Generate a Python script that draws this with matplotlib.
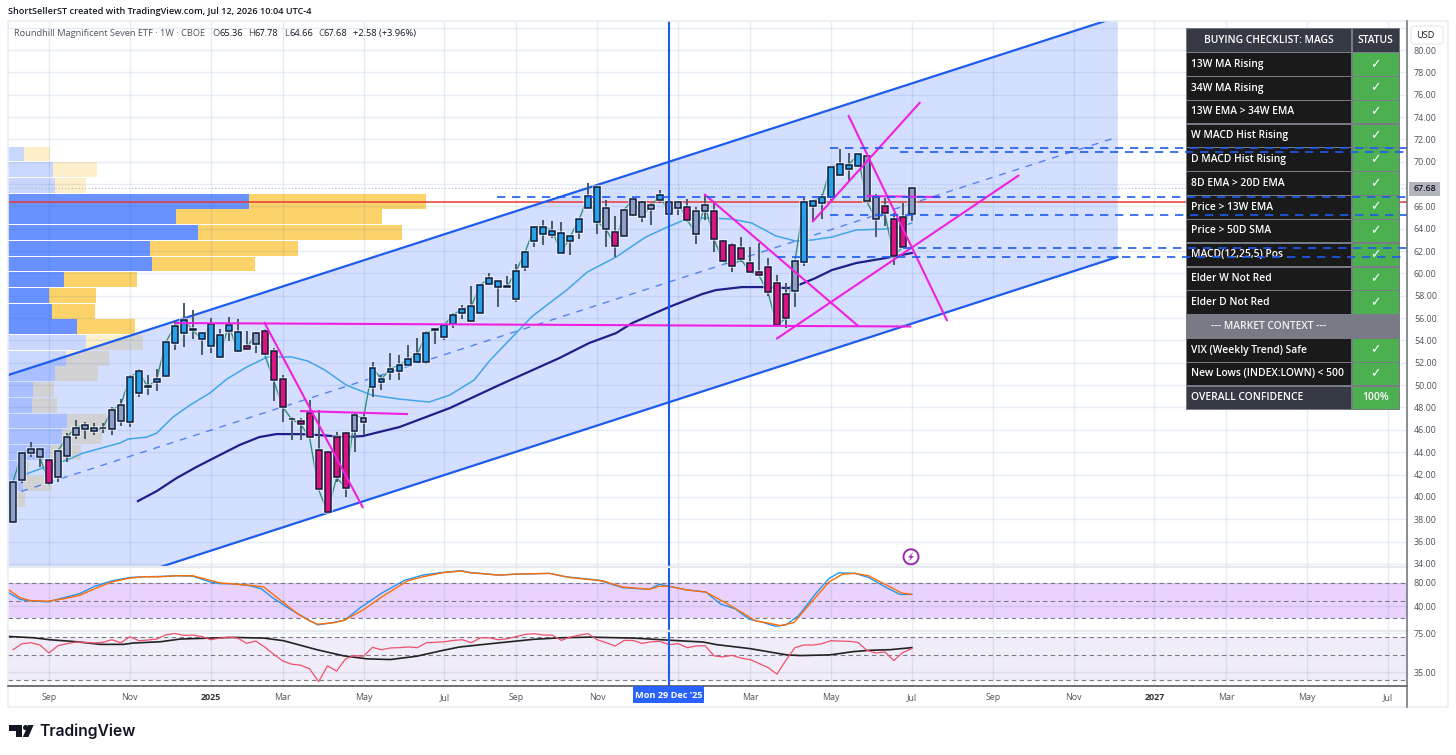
import matplotlib
matplotlib.use("Agg")
import matplotlib.pyplot as plt
import matplotlib.patheffects as pe
from matplotlib.patches import Rectangle, FancyBboxPatch, Polygon, Circle
from matplotlib.lines import Line2D
from matplotlib.transforms import Affine2D

plt.rcParams['font.family'] = ['Open Sans', 'DejaVu Sans']

# ---------- DATA ----------
opens = [37.77,41.5,43.95,44.25,43.26,41.74,43.7,45.56,46.04,46.2,46.15,46.07,46.81,46.66,49.26,49.92,50.3,50.78,53.74,54.63,
         55.05,54.63,53.53,54.52,54.87,54.72,53.5,53.68,54.81,53.02,50.58,46.96,46.81,47.47,44.22,44.04,45.32,45.68,45.92,46.72,
         49.8,50.3,51.17,51.23,51.82,52.03,52.09,55.05,54.33,55.47,56.42,55.77,56.42,59.02,59.35,58.78,57.74,60.54,62.87,63.5,
         63.41,63.59,62.87,63.68,65.83,67.77,65.83,63.68,63.32,65.2,66.39,65.74,66.57,66.39,65.83,65.92,65.56,65.62,65.62,62.93,
         62.54,62.3,60.9,60.12,60.54,59.1,58.18,58.39,61.0,66.03,66.33,66.87,68.78,69.32,69.61,70.51,66.81,66.03,64.84,65.02,65.36]
closes = [41.35,43.89,44.3,43.53,41.2,44.13,45.35,46.2,46.4,45.86,46.2,47.77,48.25,50.69,51.23,49.8,50.55,53.83,55.29,55.83,
          54.93,54.1,55.44,52.55,55.41,53.02,53.26,54.63,52.75,50.43,48.07,46.94,46.52,45.32,40.66,38.63,41.74,40.81,47.29,47.08,
          51.56,50.55,51.47,51.8,52.3,52.75,54.69,54.97,55.41,56.3,56.84,57.08,58.99,59.56,58.81,58.84,60.25,61.95,64.13,64.19,
          63.83,61.86,63.32,64.84,66.96,64.63,63.95,62.48,65.71,66.63,65.08,66.1,66.99,65.32,66.36,64.81,63.56,66.1,63.05,61.08,
          60.69,61.26,60.15,59.82,58.33,55.35,56.03,61.08,66.36,66.51,66.81,69.55,69.79,69.73,70.66,66.45,64.84,65.37,61.55,62.39,67.68]
highs = [41.4,44.0,44.93,44.25,43.3,44.2,45.68,46.87,46.72,46.57,46.6,48.07,48.78,50.9,51.41,50.93,51.41,53.87,55.77,57.32,
         56.72,54.78,55.98,55.0,56.07,55.89,54.87,54.75,55.0,53.29,50.9,47.17,47.02,48.66,47.77,44.1,45.83,45.83,47.62,47.62,
         52.04,50.9,52.84,52.7,53.58,54.18,54.87,55.1,55.47,56.42,57.17,58.87,59.0,60.0,59.41,59.77,60.81,62.0,64.15,64.78,
         64.69,64.63,63.35,64.85,68.07,67.92,66.57,65.14,65.75,66.72,66.45,66.27,67.47,66.51,66.51,66.63,65.92,67.11,66.42,62.99,
         62.69,63.29,62.39,62.69,61.35,59.85,59.17,61.1,66.72,66.51,67.11,69.6,71.11,70.75,70.69,70.5,67.11,66.72,65.43,66.33,67.78]
lows = [37.62,41.26,43.53,42.7,41.1,41.35,43.14,45.14,45.2,45.53,45.74,45.56,46.34,46.28,48.96,49.11,49.5,50.7,53.14,53.38,
        54.1,52.7,52.84,52.4,53.98,52.96,53.14,52.9,52.75,48.6,46.72,45.08,45.08,45.32,40.66,38.5,41.35,39.95,44.04,45.53,
        48.96,49.56,50.46,50.46,51.8,51.94,51.88,53.64,54.04,55.08,55.95,55.68,56.36,58.96,57.02,58.75,57.41,60.25,62.39,62.57,
        63.17,61.8,61.68,63.08,65.83,63.53,62.39,61.5,63.3,65.14,64.57,64.33,66.27,65.26,65.23,64.63,62.63,64.78,61.95,61.08,
        60.12,61.05,60.06,59.82,57.97,55.35,55.1,57.02,60.66,64.72,64.9,66.42,68.72,68.3,69.55,66.45,63.28,64.24,60.75,62.39,64.66]
impulse = ("GGGGMGGGGGGGG" + "BBBBBBBBBBBBB" + "MG" + "MMMMMMMMMM" + "GG" + "BBBBBBBBBBBBBBBBBBBBBBBBBB" +
           "GM" + "GGGG" + "B" + "GG" + "M" + "GG" + "MMMMMMMMM" + "G" + "BBBBBBB" + "GG" + "MMM" + "G")

ma13_x = [1.1,3.3,6,7.8,11.9,12.8,14.9,16,17.8,19.7,21.9,23.8,26,28.3,31,32.8,34.7,37.1,39.9,43,46.3,48.6,51.3,53.1,57.8,61.6,
          63.9,67.1,70.4,72.8,75.2,77.4,80,82.2,84.9,87.1,88.9,91.1,93.8,96.9,98.6,100]
ma13_y = [41.95,42.58,43.3,43.92,44.82,45.17,45.35,45.71,47.14,48.22,49.29,50.55,51.62,52.52,52.52,52.16,51.35,50.0,49.11,48.75,
          48.49,49.11,50.46,52.25,56.19,58.51,60.13,61.47,63.26,64.15,64.96,64.96,64.87,64.51,63.35,62.9,62.99,63.26,63.89,63.97,64.15,64.51]
ma34_x = [13.9,16,18.2,20.4,23,25.2,27.4,29.3,31.9,34.1,37.1,38.9,43,48.6,54.1,60.8,64.1,67.1,68.9,73,76.7,78.2,81.1,83.3,86.3,
          87.4,89.3,91.1,93.8,97.1,100]
ma34_y = [39.62,40.52,41.68,42.67,43.74,44.64,45.35,45.62,45.62,45.53,45.35,45.44,46.25,47.95,50.01,52.43,53.77,54.66,55.56,57.0,
          58.16,58.51,58.78,58.78,58.69,58.96,59.59,60.3,60.93,61.38,61.83]

vp_price = [70.69,69.28,67.88,66.47,65.07,63.66,62.25,60.85,59.44,58.04,56.63,55.23,53.82,52.41,51.01,49.6,48.2,46.79,45.38,43.98,42.57,41.17,39.76]
vp_up = [16,45,47,241,168,190,142,144,56,41,44,69,78,58,47,25,24,59,54,42,12,15,2]
vp_total = [42,89,78,418,374,394,290,247,129,88,87,127,135,101,90,46,49,99,94,73,21,44,17]
vp_strong = [0,0,0,1,1,1,1,1,1,1,1,1,0,0,0,0,0,0,0,0,0,0,0]

channel_x = [-0.556, 122.87]
channel_top = [50.9, 82.95]
channel_bot = [29.3, 61.47]
channel_mid = [40.1, 72.21]

pink_x = [[18.03,99.95],[27.94,38.95],[31.94,43.96],[76.9,94.05],[84.92,111.96],[88.93,100.95],[92.93,103.95],[94.94,103.17]]
pink_y = [[55.56,55.25],[55.65,39.0],[47.68,47.41],[67.11,55.29],[54.13,68.81],[64.6,75.34],[74.18,55.74],[66.93,66.84]]

level_prices = [66.84,65.23,71.23,70.87,62.27,61.47]
level_starts = [53.87,90.9,90.9,98.7,99.05,85.0]
red_level = 66.44
last_price = 67.68

stoch_k_x = [-0.5,0.8,1.9,3.9,5.6,7.4,9.1,11,13,14.5,16.3,18.2,20,21.9,23,24.5,26.3,27.6,28.9,30.8,32.6,33.9,35.6,36.9,38.6,41.1,43.6,45.6,47.8,49.9,50.8,
             54.1,56,59.7,61.5,65.2,67.8,70.8,71.9,73,74.8,77.1,78.7,80.4,81.9,83.4,84.8,86,87.4,89.3,90.8,91.9,93.7,95.2,97.4,98.7,100]
stoch_k_y = [62.9,51.5,49.2,47.5,54.3,61.2,73.8,82.9,88.6,89.8,90.3,91.5,90.9,81.2,78.3,77.8,74.9,69.7,54.3,35.4,19.4,8.6,12.6,16.6,37.2,62.9,84,92.6,97.2,100,97.2,
             92.6,94.3,95.5,89.8,84,71.5,68.6,77.2,73.8,68,64,44,35.4,18.3,13.1,6.3,8.6,24,61.2,86.9,96.6,95.5,88.6,69.7,60,60]
stoch_d_x = [-0.5,0.8,1.9,3.9,5.6,7.4,9.1,11,13,14.5,16.3,18.2,20,21.9,23,24.5,26.3,27.9,29.7,31.6,33,33.9,35.6,36.9,39,41.1,43.9,45.6,47.8,49.9,50.8,
             54.1,56,59.7,61.9,65.6,67.8,70.8,71.9,73,74.8,77.1,79.3,81.1,82.6,83.7,85.4,86.9,88.5,90.8,92.3,93.7,95.2,97,98.9,100]
stoch_d_y = [68,54.3,49.7,48.6,52.6,58.3,69.7,81.2,87.5,89.8,89.8,91.5,91.5,84,79.5,77.8,75.5,72.6,50.9,28,15.4,9.7,12,16.6,34.3,56.6,82.9,89.8,96.6,99.5,96.6,
             92.6,94.3,95.5,88.6,82.9,72.6,68.6,73.8,73.8,68,64,45.7,29.7,15.4,12.6,7.4,12.6,41.2,81.2,94.3,95.5,91.5,77.2,62.3,60]

rsi = [58.2,64.4,65.4,63,54.8,62.3,64.4,66.1,65.8,65.1,65.8,68.5,65.4,71.6,67.5,68.2,69.2,73.6,75,73,73.3,71.9,68.5,70.2,71.2,70.2,
       64.7,67.1,61,53.5,46.6,43.2,42.2,38.4,25.1,41.5,36,48.7,52.1,51.4,60.6,58.2,60,60.3,61,60.3,65.4,65.8,66.4,67.8,68.5,65.4,70.5,70.5,
       68.5,69.5,71.9,74,74.7,73.3,73.3,67.8,71.2,73.3,74.7,68.5,65.4,62,67.8,67.8,64.7,66.4,66.8,63.4,64.4,60.3,62,62.3,51.8,50.7,52.4,49.4,48,43.9,
       39.8,32.9,47.3,60.3,63,63,64.4,67.5,67.1,66.8,65.8,57.6,54.8,55.9,47,55.2,59.3]
rsi_ma_x = [-0.5,2.3,4.1,7.1,9.7,12.3,13.4,16.4,18.6,21.9,24.5,27.9,30.1,33.8,36.8,39.4,42,44.9,47.9,49.7,54.2,57.9,60.9,64.2,69,72.7,76.8,78.3,82,86.1,87.6,90.9,93.5,95.4,97.6,100]
rsi_ma_y = [71.9,70.5,68.5,66.4,63.7,63.7,65.1,66.4,69.2,70.2,70.9,70.2,67.5,58.2,51.8,48.7,48,51.4,57.6,61,65.4,68.9,70.5,71.2,70.2,68.2,66.1,63.4,59.3,52.8,52.1,52.8,56.2,57.6,58.2,60.3]

stoch_levels = [80, 48.5, 20]
rsi_levels = [71.2, 53.2, 26.5]

date_ticks = [4,13,22,30,39,48,56,65,74,82,91,100,109,118,127,135,144,153]
date_labels = ['Sep','Nov','2025','Mar','May','Jul','Sep','Nov','','Mar','May','Jul','Sep','Nov','2027','Mar','May','Jul']
cursor_week = 73
cursor_label = "Mon 29 Dec '25"

table_rows = ['13W MA Rising','34W MA Rising','13W EMA > 34W EMA','W MACD Hist Rising','D MACD Hist Rising','8D EMA > 20D EMA',
              'Price > 13W EMA','Price > 50D SMA','MACD(12,25,5) Pos','Elder W Not Red','Elder D Not Red',
              '--- MARKET CONTEXT ---','VIX (Weekly Trend) Safe','New Lows (INDEX:LOWN) < 500','OVERALL CONFIDENCE']
table_status = ['✓']*11 + [''] + ['✓','✓','100%']

# ---------- LAYOUT ----------
W, H = 1456, 755
fig = plt.figure(figsize=(W/100, H/100), dpi=100, facecolor='white')
px = Affine2D().scale(1, -1).translate(0, H)

def axes_px(x0, y0, x1, y1, **kw):
    return fig.add_axes([x0/W, (H-y1)/H, (x1-x0)/W, (y1-y0)/H], **kw)

XMIN, XMAX = -0.556, 155.1
BLUE = '#2962FF'
LINEBLUE = '#1D5CEE'

ax_vp = axes_px(8, 21, 1407, 567, zorder=0)
ax = axes_px(8, 21, 1407, 567, zorder=1)
ax2 = axes_px(8, 568, 1407, 630, zorder=1)
ax3 = axes_px(8, 632, 1407, 686, zorder=1)
ax.patch.set_visible(False)

for a in (ax_vp, ax, ax2, ax3):
    a.set_xlim(XMIN, XMAX)
    for s in a.spines.values():
        s.set_visible(False)

ax.set_ylim(33.72, 82.6)
ax_vp.set_ylim(33.72, 82.6)
ax_vp.set_xlim(0, 1399)
ax_vp.set_xticks([]); ax_vp.set_yticks([])
ax2.set_ylim(0, 104.6)
ax3.set_ylim(20.6, 76.5)

# grid
yt = list(range(34, 84, 2))
ax.set_yticks(yt)
ax.set_yticklabels(['' if v in (68, 82) else f'{v:.2f}' for v in yt])
ax.yaxis.tick_right()
ax2.yaxis.tick_right(); ax3.yaxis.tick_right()
ax2.set_yticks([80, 40]); ax2.set_yticklabels(['80.00', '40.00'])
ax3.set_yticks([75, 35]); ax3.set_yticklabels(['75.00', '35.00'])
for a in (ax, ax2, ax3):
    a.set_xticks(date_ticks)
    a.tick_params(axis='both', length=0)
    a.tick_params(axis='y', labelsize=6.4, labelcolor='#50535e', pad=5)
    a.grid(True, color='#29619B', alpha=0.11, lw=1.0, zorder=0.5)
    a.set_axisbelow(True)
ax.set_xticklabels([]); ax2.set_xticklabels([])
ax3.set_xticklabels(date_labels, fontsize=6.4, color='#50535e')
ax3.tick_params(axis='x', pad=5)
for lab, txt in zip(ax3.get_xticklabels(), date_labels):
    if txt.isdigit():
        lab.set_fontweight('bold'); lab.set_color('#333333')

# volume profile
for p, u, t, s in zip(vp_price, vp_up, vp_total, vp_strong):
    al = 0.7 if s else 0.25
    ax_vp.barh(p, u, height=1.33, left=0, color=BLUE, alpha=al, lw=0, zorder=2)
    ax_vp.barh(p, t-u, height=1.33, left=u, color='#FBC02D', alpha=al, lw=0, zorder=2)

# channel
ax.fill_between(channel_x, channel_bot, channel_top, color=BLUE, alpha=0.2, lw=0, zorder=1)
ax.plot(channel_x, channel_top, color=LINEBLUE, lw=1.6, zorder=4)
ax.plot(channel_x, channel_bot, color=LINEBLUE, lw=1.6, zorder=4)
ax.plot(channel_x, channel_mid, color=LINEBLUE, lw=1.0, ls=(0, (5, 5)), alpha=0.7, zorder=4)

# horizontal levels under the table
ax.axhline(red_level, color='#E53935', lw=1.1, zorder=3)
ax.axhline(last_price, color='#b2b5be', lw=0.8, ls=(0, (1, 2)), zorder=3)

# moving averages and fast line
idx = list(range(len(closes)))
ax.plot(ma13_x, ma13_y, color='#42A5E8', lw=1.1, zorder=5)
ax.plot(ma34_x, ma34_y, color='#1F1F8A', lw=1.6, zorder=5)
ax.plot(idx, closes, color='#2F8F78', lw=1.0, zorder=6)

# candles
fill = {'G': '#8F9FC6', 'B': '#2AA0E6', 'M': '#DC1480'}
tops = [max(o, c) for o, c in zip(opens, closes)]
bots = [min(o, c) for o, c in zip(opens, closes)]
hts = [max(t-b, 0.05) for t, b in zip(tops, bots)]
ax.vlines(idx, lows, highs, color='#4A5A66', lw=1.4, zorder=7)
bars = ax.bar(idx, hts, bottom=bots, width=0.66, color=[fill[k] for k in impulse],
              edgecolor='#0E1C3C', lw=1.1, zorder=8)
halo = [pe.withStroke(linewidth=2.6, foreground=(1, 1, 1, 0.6))]
for b in bars:
    b.set_path_effects(halo)

# pink trend lines
for xs, ys in zip(pink_x, pink_y):
    ax.plot(xs, ys, color='#F020E0', lw=1.5, zorder=10, solid_capstyle='butt')

# table
tbl_x0, tbl_x1, tbl_mid = 1186, 1400, 1352
ax.add_patch(Rectangle((tbl_x0, 28), tbl_x1-tbl_x0, 382, transform=px, fc='#787B86', ec='none', zorder=20, clip_on=False))
def cell(x0, x1, y0, y1, c):
    ax.add_patch(Rectangle((x0, y0), x1-x0, y1-y0, transform=px, fc=c, ec='none', zorder=21, clip_on=False))
def ttext(x, y, s, ha='left', size=7.4, weight='semibold', c='white', fam=None):
    ax.text(x, y, s, transform=px, ha=ha, va='center', fontsize=size, color=c, fontweight=weight, zorder=22, clip_on=False, family=fam)
cell(1187, 1351, 29, 51.5, '#363A45'); cell(1353, 1399, 29, 51.5, '#363A45')
ttext(1269, 40.5, 'BUYING CHECKLIST: MAGS', ha='center')
ttext(1375.5, 40.5, 'STATUS', ha='center')
row_h = 23.82
for k, (lab, st) in enumerate(zip(table_rows, table_status)):
    y0 = 53.2 + k*row_h
    y1 = y0 + row_h - 1.3
    if lab.startswith('---'):
        ttext(1269, y0+11, lab, ha='center', c='#f0f0f0')
        continue
    last = lab.startswith('OVERALL')
    cell(1187, 1351, y0, y1, '#363A45' if last else '#1A1A1A')
    cell(1353, 1399, y0, y1, '#4CAF50')
    ttext(1191, y0+11, lab)
    if st == '✓':
        ttext(1375.5, y0+11, st, ha='center', size=9, weight='bold', fam=['DejaVu Sans'])
    else:
        ttext(1375.5, y0+11, st, ha='center')

# dashed levels over the table
for p, s in zip(level_prices, level_starts):
    ax.plot([s, XMAX], [p, p], color=LINEBLUE, lw=1.2, ls=(0, (5, 4)), zorder=25)

# stochastic pane
ax2.axhspan(stoch_levels[2], stoch_levels[0], color='#E9D3FD', lw=0, zorder=0.2)
for v in stoch_levels:
    ax2.axhline(v, color='#787B86', lw=0.8, ls=(0, (4, 3)), zorder=2)
ax2.plot(stoch_k_x, stoch_k_y, color='#2196F3', lw=1.0, zorder=3)
ax2.plot(stoch_d_x, stoch_d_y, color='#FF6D00', lw=1.0, zorder=4)

# RSI pane
ax3.axhspan(rsi_levels[2], rsi_levels[0], color='#F0ECF8', lw=0, zorder=0.2)
for v in rsi_levels:
    ax3.axhline(v, color='#787B86', lw=0.8, ls=(0, (4, 3)), zorder=2)
ax3.plot(rsi_ma_x, rsi_ma_y, color='#222222', lw=1.2, zorder=3)
ax3.plot(idx, rsi, color='#F0506A', lw=0.9, zorder=4)

# cursor
for a in (ax, ax2, ax3):
    a.axvline(cursor_week, color=LINEBLUE, lw=1.5, zorder=12)

# figure-level furniture
def fline(xs, ys, c, lw, z=30):
    fig.add_artist(Line2D(xs, ys, transform=px, color=c, lw=lw, zorder=z))
fline([8, 1448, 1448, 8, 8], [21, 21, 707, 707, 21], '#E9ECF1', 1.2, z=5)
fline([8, 1407], [567.2, 567.2], '#E6EAEF', 1.6)
fline([8, 1407], [631, 631], '#E6EAEF', 1.6)
fline([8, 1407], [685.8, 685.8], '#4A4C52', 1.1)
fline([1407, 1407], [21, 707], '#6A6D75', 1.1)

# cursor label
fig.add_artist(Rectangle((633, 686), 70.5, 17, transform=px, fc=BLUE, ec='none', zorder=31))
fig.text(668.3, 695, cursor_label, transform=px, ha='center', va='center', fontsize=6.6, color='white', fontweight='bold', zorder=32)

# price tag and currency box
fig.add_artist(Rectangle((1409, 182), 31, 13.5, transform=px, fc='#B2B5BE', ec='none', zorder=31))
fig.text(1424.5, 188.7, f'{last_price:.2f}', transform=px, ha='center', va='center', fontsize=6.4, color='#131722', fontweight='semibold', zorder=32)
fig.add_artist(FancyBboxPatch((1411, 26), 32, 18, boxstyle='round,pad=0,rounding_size=3', transform=px, fc='white', ec='#E9ECF1', lw=1, zorder=31))
fig.text(1425.5, 35.5, 'USD', transform=px, ha='center', va='center', fontsize=6.6, color='#131722', zorder=32)

# event marker
fig.add_artist(Circle((911, 556.8), 7.5, transform=px, fc='white', ec='#9C27B0', lw=1.4, zorder=31))
fig.add_artist(Polygon([(913.5, 552), (908, 557.5), (910.8, 557.5), (908.5, 561.5), (914, 556), (911.2, 556)],
                       transform=px, fc='#9C27B0', ec='none', zorder=32))

# header and legend
fig.text(8, 11.5, 'ShortSellerST created with TradingView.com, Jul 12, 2026 10:04 UTC-4', transform=px,
         ha='left', va='center', fontsize=6.6, color='#131722', fontweight='semibold')
def legend(x, s, c='#50535e', w='normal'):
    fig.text(x, 33.3, s, transform=px, ha='left', va='center', fontsize=6.7, color=c, fontweight=w, zorder=33)
legend(14.3, 'Roundhill Magnificent Seven ETF · 1W · CBOE')
for x, s, c in [(212, 'O', '#50535e'), (219.5, '65.36', '#131722'), (248, 'H', '#50535e'), (254.5, '67.78', '#131722'),
                (284, 'L', '#50535e'), (289, '64.66', '#131722'), (318, 'C', '#50535e'), (324, '67.68', '#131722'),
                (353, '+2.58 (+3.96%)', '#131722')]:
    legend(x, s, c)

# footer logo
fig.add_artist(Polygon([(9.3, 725), (21.5, 725), (21.5, 737), (15.5, 737), (15.5, 730.5), (9.3, 730.5)], transform=px, fc='#131722', ec='none'))
fig.add_artist(Circle((25.6, 727.6), 2.6, transform=px, fc='#131722', ec='none'))
fig.add_artist(Polygon([(28.2, 725), (33.6, 725), (28.4, 737), (22.8, 737)], transform=px, fc='#131722', ec='none'))
fig.text(39, 731.5, 'TradingView', transform=px, ha='left', va='center', fontsize=11.3, color='#131722', family='Inter', fontweight='semibold')

fig.savefig('out.png', dpi=100)
